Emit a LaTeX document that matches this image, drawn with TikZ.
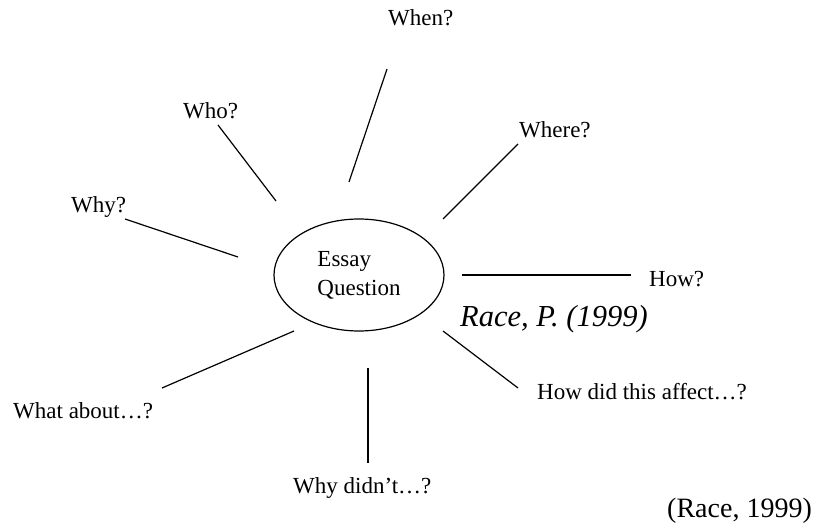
\documentclass[tikz,border=0pt]{standalone}
\usepackage{fontspec}
\setmainfont{Liberation Serif}
\usetikzlibrary{shapes.geometric}

\begin{document}
\begin{tikzpicture}[
    x=1pt, y=-1pt,
    every node/.style={
        inner sep=0pt,
        anchor=base west,
        font=\fontsize{23}{29}\selectfont
    },
    spoke/.style={line width=1.2pt}
]
\useasboundingbox (0,0) rectangle (820,524);

% centre
\node[ellipse, draw, line width=1.2pt, anchor=center, align=left,
      minimum width=170pt, minimum height=112pt] (essay) at (359,275) {Essay\\Question};

% questions
\node (when) at (388,26) {When?};
\node (who) at (183,119) {Who?};
\node (where) at (519,138) {Where?};
\node (why) at (71,212) {Why?};
\node (how) at (649,287) {How?};
\node (whatabout) at (13,418) {What about\ldots?};
\node (whydidnt) at (293,493) {Why didn’t\ldots?};
\node (howaffect) at (537,399) {How did this affect\ldots?};

% source
\node[font=\fontsize{30.5}{36}\selectfont\itshape] (race) at (460,326) {Race, P. (1999)};
\node[font=\fontsize{28}{33}\selectfont] (cite) at (667,517) {(Race, 1999)};

% line ends
\coordinate (when-a) at (349,182);  \coordinate (when-b) at (387,69);
\coordinate (who-a) at (276,201);   \coordinate (who-b) at (218,125);
\coordinate (where-a) at (443,219); \coordinate (where-b) at (518,144);
\coordinate (why-a) at (238,257);   \coordinate (why-b) at (125,219);
\coordinate (how-a) at (462,275);   \coordinate (how-b) at (631,275);
\coordinate (what-a) at (294,331);  \coordinate (what-b) at (162,388);
\coordinate (didnt-a) at (368,368); \coordinate (didnt-b) at (368,463);
\coordinate (affect-a) at (443,331); \coordinate (affect-b) at (518,388);

% lines
\draw[spoke] (when-a) -- (when-b);
\draw[spoke] (who-a) -- (who-b);
\draw[spoke] (where-a) -- (where-b);
\draw[spoke] (why-a) -- (why-b);
\draw[spoke] (how-a) -- (how-b);
\draw[spoke] (what-a) -- (what-b);
\draw[spoke] (didnt-a) -- (didnt-b);
\draw[spoke] (affect-a) -- (affect-b);

\end{tikzpicture}
\end{document}
